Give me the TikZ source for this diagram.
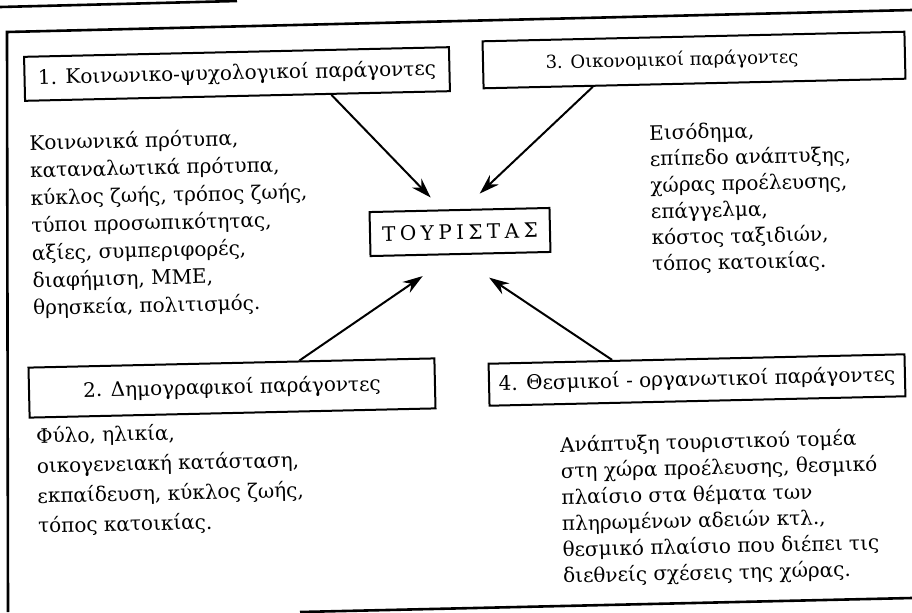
\documentclass[tikz,border=0pt]{standalone}
\usepackage{fontspec}
\setmainfont{DejaVu Serif}
\usetikzlibrary{arrows.meta,calc}

\begin{document}
\begin{tikzpicture}[x=0.5pt, y=-0.5pt, >={Stealth[length=10pt,width=6.5pt]},
		every node/.style={rotate=1.3},
		factor/.style={draw, line width=1pt, inner sep=0pt, font=\fontsize{10}{12}\selectfont},
		tourist/.style={draw, line width=1pt, inner sep=0pt, minimum width=90pt, minimum height=22pt,
			font=\fontsize{10}{12}\selectfont\addfontfeatures{LetterSpace=22}},
		notes/.style={align=left, anchor=base west, inner sep=0pt},
		link/.style={->, line width=1pt},
		frame/.style={line width=1.3pt}]
		\useasboundingbox (0,0) rectangle (912,612);
		% page frame (scanned, slightly skewed)
		\draw[frame] (0,7) -- (237,1);
		\draw[frame] (912,10) -- (7,32) -- (8,612);
		\draw[frame] (300,612) -- (912,598);
		% centre
		\node[tourist] (tour) at (460,232) {ΤΟΥΡΙΣΤΑΣ};
		% the four groups of factors
		\node[factor, minimum width=212.5pt, minimum height=22pt] (f1) at (237,74) {1. Κοινωνικο-ψυχολογικοί παράγοντες};
		\node[factor, minimum width=211pt, minimum height=23.5pt, font=\fontsize{9}{12}\selectfont] (f3) at (694,60)
			{3. Οικονομικοί παράγοντες\hspace*{22pt}};
		\node[factor, minimum width=203pt, minimum height=25pt] (f2) at (232,388) {2. Δημογραφικοί παράγοντες};
		\node[factor, minimum width=208pt, minimum height=21pt] (f4) at (697,380) {4. Θεσμικοί - οργανωτικοί παράγοντες};
		% arrows towards the tourist
		\draw[link, shorten >=24pt] ($(f1.south west)!0.72!(f1.south east)$) -- ([xshift=2pt]tour.center);
		\draw[link, shorten >=28pt] ($(f3.south west)!0.26!(f3.south east)$) -- ([xshift=-10.5pt]tour.center);
		\draw[link, shorten >=39pt] ($(f2.north west)!0.667!(f2.north east)$) -- ([xshift=13.5pt]tour.center);
		\draw[link, shorten >=41pt] ($(f4.north west)!0.298!(f4.north east)$) -- ([xshift=-19.5pt]tour.center);
		% lists (anchored at the baseline of the last line)
		\node[notes, font=\fontsize{10}{13.75}\selectfont] (t1) at (33,315) {Κοινωνικά πρότυπα,\\καταναλωτικά πρότυπα,\\κύκλος ζωής, τρόπος ζωής,\\τύποι προσωπικότητας,\\αξίες, συμπεριφορές,\\διαφήμιση, ΜΜΕ,\\θρησκεία, πολιτισμός.};
		\node[notes, font=\fontsize{10}{13.1}\selectfont] (t3) at (652,271) {Εισόδημα,\\επίπεδο ανάπτυξης,\\χώρας προέλευσης,\\επάγγελμα,\\κόστος ταξιδιών,\\τόπος κατοικίας.};
		\node[notes, font=\fontsize{10}{15}\selectfont] (t2) at (38,533) {Φύλο, ηλικία,\\οικογενειακή κατάσταση,\\εκπαίδευση, κύκλος ζωής,\\τόπος κατοικίας.};
		\node[notes, font=\fontsize{10}{13.1}\selectfont] (t4) at (563,583) {Ανάπτυξη τουριστικού τομέα\\στη χώρα προέλευσης, θεσμικό\\πλαίσιο στα θέματα των\\πληρωμένων αδειών κτλ.,\\θεσμικό πλαίσιο που διέπει τις\\διεθνείς σχέσεις της χώρας.};
	\end{tikzpicture}
\end{document}
